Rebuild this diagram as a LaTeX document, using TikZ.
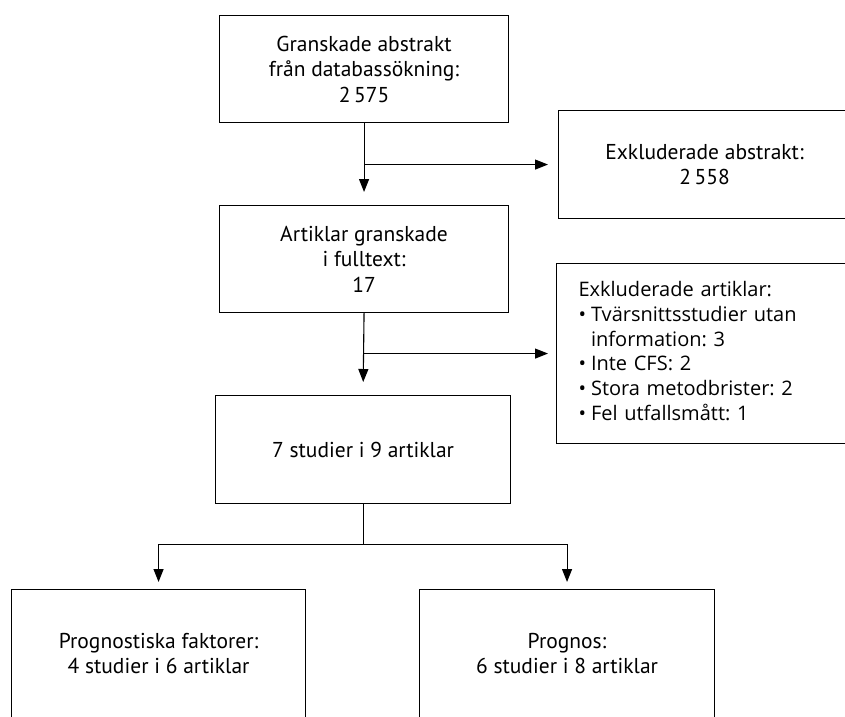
\documentclass[tikz,border=0pt]{standalone}
\usepackage{fontspec}
\setmainfont{PT Sans}
\newfontfamily\listfont{Open Sans}
\usetikzlibrary{arrows.meta,calc}
\begin{document}
\frenchspacing
\begin{tikzpicture}[x=1pt,y=-1pt,
  box/.style={draw=black,line width=1.1pt,rectangle,inner sep=0pt,align=center,
    font=\fontsize{21.5}{25.5}\selectfont},
  arr/.style={-{Triangle[length=13pt,width=10pt]},line width=1.1pt},
  ln/.style={line width=1.1pt}]
\useasboundingbox (0,0) rectangle (845,716);
\clip (0,0) rectangle (845,716);
\node[box,anchor=north west,minimum width=289,minimum height=107] (b1) at (219,15)
  {Granskade abstrakt\\från databassökning:\\2\,575};
\node[box,anchor=north west,minimum width=289,minimum height=107] (b2) at (219,205)
  {Artiklar granskade\\i fulltext:\\17};
\node[box,anchor=north west,minimum width=295,minimum height=108] (b4) at (215,395)
  {7 studier i 9 artiklar};
\node[box,anchor=north west,minimum width=292,minimum height=108] (ea) at (558,110)
  {Exkluderade abstrakt:\\2\,558};
\node[box,anchor=north west,minimum height=180,text width=250,inner xsep=22pt,align=left,
  font=\listfont\fontsize{20}{24.8}\selectfont] (eb) at (556,263)
  {\begin{tabular}{@{}c@{\hspace{5pt}}l@{}}
   \multicolumn{2}{@{}l@{}}{Exkluderade artiklar:}\\
   \textbullet & Tvärsnittsstudier utan\\
    & information: 3\\
   \textbullet & Inte CFS: 2\\
   \textbullet & Stora metodbrister: 2\\
   \textbullet & Fel utfallsmått: 1
   \end{tabular}};
\node[box,anchor=north west,minimum width=294,minimum height=128] (p1) at (11,589)
  {Prognostiska faktorer:\\4 studier i 6 artiklar};
\node[box,anchor=north west,minimum width=295,minimum height=128] (p2) at (419,589)
  {Prognos:\\6 studier i 8 artiklar};
\draw[arr,shorten >=13pt] (b1.south) -- (b2.north);
\draw[arr,shorten >=10pt] (b1.south |- ea.west) -- (ea.west);
\draw[arr,shorten >=13pt] (b2.south) -- (b4.north);
\draw[arr,shorten >=8pt] (b2.south |- eb.west) -- (eb.west);
\coordinate (split) at ($(b4.south)+(0,40)$);
\draw[ln] (b4.south) -- (split);
\draw[arr,shorten >=7pt] (split) -| (p1.north);
\draw[arr,shorten >=7pt] (split) -| (p2.north);
\end{tikzpicture}
\end{document}
